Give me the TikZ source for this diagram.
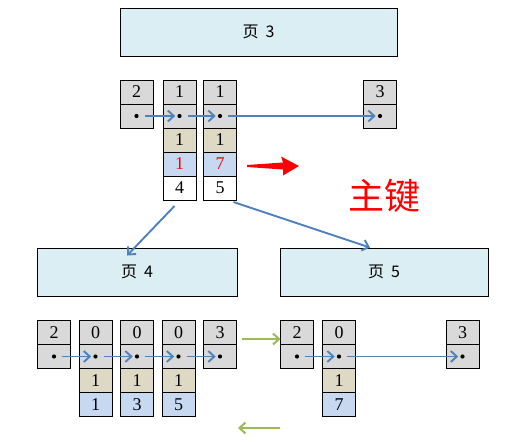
\documentclass[tikz,border=0pt]{standalone}
\usepackage{fontspec}
\setmainfont{Liberation Serif}
\newfontfamily\cjk{Noto Sans CJK SC}
\usetikzlibrary{positioning}
\usetikzlibrary{arrows.meta}
\definecolor{cellgrey}{RGB}{217,217,217}
\definecolor{cellbeige}{RGB}{221,217,196}
\definecolor{cellblue}{RGB}{198,217,240}
\definecolor{pageblue}{RGB}{218,238,243}
\definecolor{linkblue}{RGB}{79,129,189}
\definecolor{movegreen}{RGB}{155,187,89}
\tikzset{cell/.style={draw,line width=0.9pt,outer sep=0pt,inner sep=0pt,minimum width=33pt,minimum height=24pt,font=\fontsize{18}{18}\selectfont},
	keycell/.style={cell,fill=cellgrey},
	ptrcell/.style={cell,fill=cellgrey},
	flagcell/.style={cell,fill=cellbeige},
	datacell/.style={cell,fill=cellblue},
	rowcell/.style={cell,fill=white},
	ptdot/.style={circle,fill=black,inner sep=0pt,minimum size=4.2pt},
	pagebox/.style={draw,fill=pageblue,line width=0.9pt,inner sep=0pt,minimum height=48pt,font=\cjk\fontsize{16}{16}\selectfont},
	link/.style={linkblue,line width=1.9pt,-{Straight Barb[length=6pt,width=11pt,line width=1.9pt]}},
	move/.style={movegreen,line width=2pt,-{Straight Barb[length=6pt,width=11pt,line width=2pt]}},}

\begin{document}
\begin{tikzpicture}[x=1pt,y=-1pt,node distance=0pt]
	\useasboundingbox (0,0) rectangle (523,442);

	% pages
	\node[pagebox, minimum width=277pt] (pgthree) at (258.5,32) {页\hspace{7pt}3};
	\node[pagebox, minimum width=200pt] (pgfour) at (137,272) {页\hspace{7pt}4};
	\node[pagebox, minimum width=208pt] (pgfive) at (384,272) {页\hspace{7pt}5};

	% page 3 records
	\node[keycell] (t1k) at (136.5,92) {2};
	\node[ptrcell] (t1p) [below = of t1k] {};
	\node[keycell] (t2k) at (179.5,92) {1};
	\node[ptrcell] (t2p) [below = of t2k] {};
	\node[flagcell] (t2f) [below = of t2p] {1};
	\node[datacell] (t2d) [below = of t2f] {\textcolor{red}{1}};
	\node[rowcell] (t2r) [below = of t2d] {4};
	\node[keycell] (t3k) at (220,92) {1};
	\node[ptrcell] (t3p) [below = of t3k] {};
	\node[flagcell] (t3f) [below = of t3p] {1};
	\node[datacell] (t3d) [below = of t3f] {\textcolor{red}{7}};
	\node[rowcell] (t3r) [below = of t3d] {5};
	\node[keycell] (t4k) at (380,92) {3};
	\node[ptrcell] (t4p) [below = of t4k] {};

	% page 4 records
	\node[keycell] (l1k) at (54,332.5) {2};
	\node[ptrcell] (l1p) [below = of l1k] {};
	\node[keycell] (l2k) at (95.5,332.5) {0};
	\node[ptrcell] (l2p) [below = of l2k] {};
	\node[flagcell] (l2f) [below = of l2p] {1};
	\node[datacell] (l2d) [below = of l2f] {1};
	\node[keycell] (l3k) at (137,332.5) {0};
	\node[ptrcell] (l3p) [below = of l3k] {};
	\node[flagcell] (l3f) [below = of l3p] {1};
	\node[datacell] (l3d) [below = of l3f] {3};
	\node[keycell] (l4k) at (178.5,332.5) {0};
	\node[ptrcell] (l4p) [below = of l4k] {};
	\node[flagcell] (l4f) [below = of l4p] {1};
	\node[datacell] (l4d) [below = of l4f] {5};
	\node[keycell] (l5k) at (220,332.5) {3};
	\node[ptrcell] (l5p) [below = of l5k] {};

	% page 5 records
	\node[keycell] (r1k) at (297,332.5) {2};
	\node[ptrcell] (r1p) [below = of r1k] {};
	\node[keycell] (r2k) at (339,332.5) {0};
	\node[ptrcell] (r2p) [below = of r2k] {};
	\node[flagcell] (r2f) [below = of r2p] {1};
	\node[datacell] (r2d) [below = of r2f] {7};
	\node[keycell] (r3k) at (462.5,332.5) {3};
	\node[ptrcell] (r3p) [below = of r3k] {};

	% record pointers
	\foreach \p in {t1p,t2p,t3p,t4p,l1p,l2p,l3p,l4p,l5p,r1p,r2p,r3p}
		\node[ptdot] (\p dot) at (\p.center) {};
	\foreach \a/\b in {t1p/t2p,t2p/t3p,t3p/t4p,l1p/l2p,l2p/l3p,l3p/l4p,l4p/l5p,r1p/r2p,r2p/r3p}
		\draw[link, shorten <=6pt, shorten >=2pt] (\a dot) -- (\b dot);

	% split
	\draw[link] ([xshift=-5pt,yshift=-6pt]t2r.south) -- ([xshift=-10pt,yshift=-8pt]pgfour.north);
	\draw[link] ([xshift=-3pt,yshift=-2pt]t3r.south east) -- ([xshift=-14pt]pgfive.north);
	\draw[move] ([xshift=5pt,yshift=-6.5pt]l5k.east) -- ([yshift=-6.5pt]r1k.west);
	\coordinate (backfrom) at (280,428);
	\coordinate (backto) at (238,428);
	\draw[move] (backfrom) -- (backto);

	% primary key
	\fill[red] (247,165) -- (283,162.5) -- (281,156.5) -- (299,166) -- (283,175.5) -- (283,169.5) -- (247,167) -- cycle;
	\node[text=red, font=\cjk\fontsize{36}{36}\selectfont] (pkey) at (384,196) {主键};
\end{tikzpicture}
\end{document}
